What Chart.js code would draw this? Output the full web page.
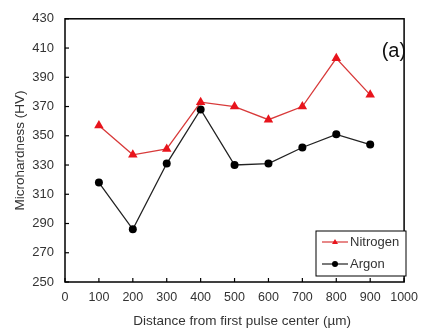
<!DOCTYPE html>
<html lang="en">
<head>
  <meta charset="UTF-8" />
  <title>Microhardness</title>
  <style>
    html, body { margin: 0; padding: 0; background: #fff; }
    #wrap { width: 426px; height: 329px; }
  </style>
</head>
<body>
  <div id="wrap"><canvas id="chart" width="426" height="329"></canvas></div>

  <script src="https://cdn.jsdelivr.net/npm/chart.js"></script>
  <script>
    const distances = [100, 200, 300, 400, 500, 600, 700, 800, 900];
    const nitrogen = [357, 337, 341, 373, 370, 361, 370, 403, 378];
    const argon = [318, 286, 331, 368, 330, 331, 342, 351, 344];
    const xTicks = [0, 100, 200, 300, 400, 500, 600, 700, 800, 900, 1000];
    const yTicks = [250, 270, 290, 310, 330, 350, 370, 390, 410, 430];

    const FONT = "'Liberation Sans', Arial, sans-serif";

    // frame, inward ticks, the (a) label and the boxed legend
    const extras = {
      id: "extras",
      afterDraw(chart) {
        const ctx = chart.ctx;
        const a = chart.chartArea;
        const xs = chart.scales.x, ys = chart.scales.y;
        ctx.save();
        ctx.strokeStyle = "#000";
        ctx.lineWidth = 1.5;
        ctx.strokeRect(a.left, a.top, a.right - a.left, a.bottom - a.top);

        ctx.lineWidth = 1.2;
        xTicks.forEach(v => {
          const px = xs.getPixelForValue(v);
          ctx.beginPath();
          ctx.moveTo(px, a.bottom);
          ctx.lineTo(px, a.bottom - 4);
          ctx.stroke();
        });
        yTicks.forEach(v => {
          const py = ys.getPixelForValue(v);
          ctx.beginPath();
          ctx.moveTo(a.left, py);
          ctx.lineTo(a.left + 4, py);
          ctx.stroke();
        });

        ctx.fillStyle = "#111";
        ctx.font = "20px " + FONT;
        ctx.textBaseline = "middle";
        ctx.textAlign = "right";
        ctx.fillText("(a)", a.right + 2, 51);

        // legend
        const lx = 316, ly = 231, lw = 90, lh = 45;
        ctx.fillStyle = "#fff";
        ctx.fillRect(lx, ly, lw, lh);
        ctx.strokeStyle = "#000";
        ctx.lineWidth = 1;
        ctx.strokeRect(lx, ly, lw, lh);
        ctx.font = "13px " + FONT;
        ctx.textAlign = "left";
        chart.data.datasets.forEach((ds, i) => {
          const cy = ly + 11 + i * 22;
          ctx.strokeStyle = ds.borderColor;
          ctx.lineWidth = 1.2;
          ctx.beginPath();
          ctx.moveTo(lx + 6, cy);
          ctx.lineTo(lx + 32, cy);
          ctx.stroke();
          ctx.fillStyle = ds.pointBackgroundColor;
          if (ds.pointStyle === "triangle") {
            ctx.beginPath();
            ctx.moveTo(lx + 19, cy - 3);
            ctx.lineTo(lx + 22, cy + 2);
            ctx.lineTo(lx + 16, cy + 2);
            ctx.closePath();
            ctx.fill();
          } else {
            ctx.beginPath();
            ctx.arc(lx + 19, cy, 3, 0, Math.PI * 2);
            ctx.fill();
          }
          ctx.fillStyle = "#333";
          ctx.fillText(ds.label, lx + 34, cy);
        });
        ctx.restore();
      }
    };

    new Chart(document.getElementById("chart"), {
      type: "line",
      data: {
        datasets: [
          {
            label: "Nitrogen",
            data: distances.map((d, i) => ({ x: d, y: nitrogen[i] })),
            borderColor: "#d83a3a",
            borderWidth: 1.3,
            pointStyle: "triangle",
            pointRadius: 5.5,
            pointBackgroundColor: "#e8141c",
            pointBorderColor: "#e8141c",
            pointBorderWidth: 0
          },
          {
            label: "Argon",
            data: distances.map((d, i) => ({ x: d, y: argon[i] })),
            borderColor: "#222",
            borderWidth: 1.3,
            pointStyle: "circle",
            pointRadius: 4,
            pointBackgroundColor: "#000",
            pointBorderColor: "#000",
            pointBorderWidth: 0
          }
        ]
      },
      options: {
        responsive: false,
        animation: false,
        layout: { padding: { top: 14, right: 14, left: 0, bottom: 0 } },
        plugins: { legend: { display: false }, tooltip: { enabled: false } },
        scales: {
          x: {
            type: "linear",
            min: 0,
            max: 1000,
            afterBuildTicks: s => { s.ticks = xTicks.map(v => ({ value: v })); },
            afterFit: s => { s.height = 47; },
            grid: { display: false, drawTicks: false },
            border: { display: false },
            ticks: { color: "#333", font: { family: FONT, size: 12.5 }, padding: 8, maxRotation: 0,
                     callback: v => String(v) },
            title: { display: true, text: "\u00a0\u00a0\u00a0\u00a0Distance from first pulse center (µm)", color: "#333",
                     font: { family: FONT, size: 13.5 }, padding: { top: 2, bottom: 0 } }
          },
          y: {
            min: 250,
            max: 430,
            afterBuildTicks: s => { s.ticks = yTicks.map(v => ({ value: v })); },
            afterFit: s => { s.width = 65; },
            grid: { display: false, drawTicks: false },
            border: { display: false },
            ticks: { color: "#333", font: { family: FONT, size: 13 }, padding: 11,
                     callback: v => String(v) },
            title: { display: true, text: "Microhardness (HV)", color: "#333",
                     font: { family: FONT, size: 13.5 }, padding: { top: 12, bottom: 0 } }
          }
        }
      },
      plugins: [extras]
    });
  </script>
</body>
</html>
